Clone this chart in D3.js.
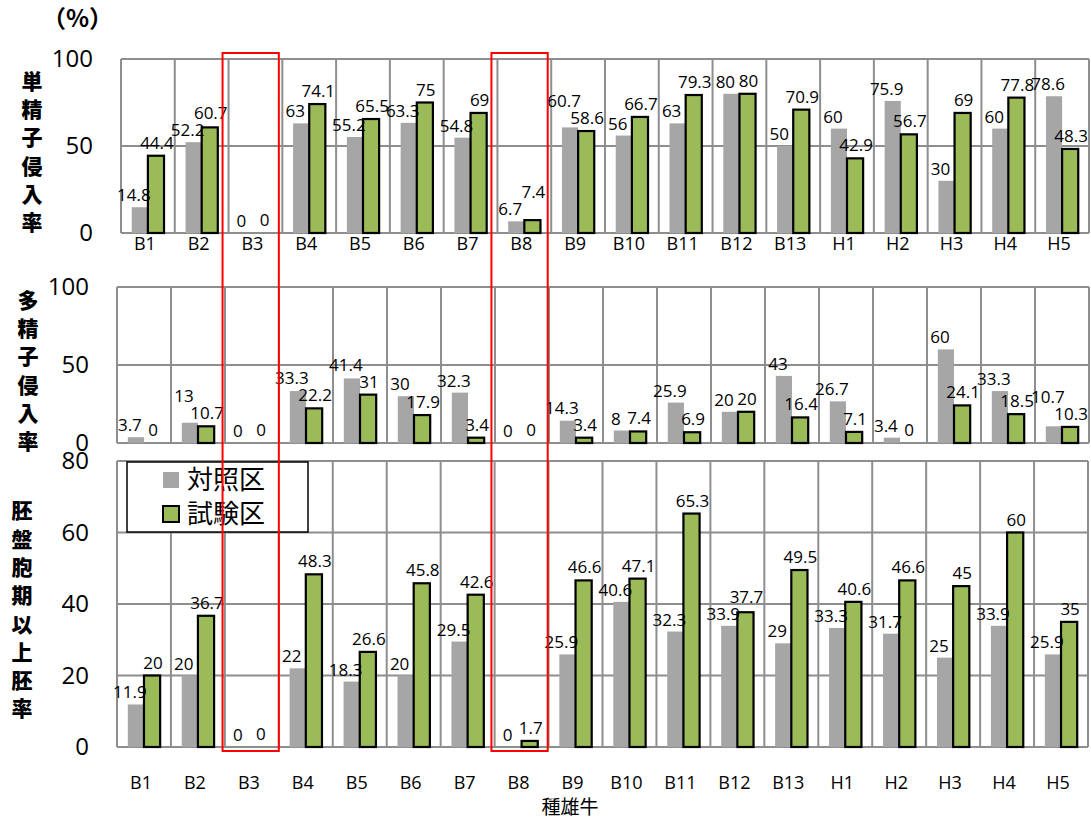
<!DOCTYPE html>
<html>
<head>
<meta charset="utf-8">
<script src="https://cdn.jsdelivr.net/npm/d3@7"></script>
<style>
    body { margin: 0; background: #fff; }
    svg { display: block; }
    text { font-family: "Open Sans", sans-serif; fill: #000; }
    .jp { font-family: "Noto Sans CJK JP", sans-serif; }
</style>
</head>
<body>
<svg class="chart"></svg>
<script>
// data
const categories = ['B1', 'B2', 'B3', 'B4', 'B5', 'B6', 'B7', 'B8', 'B9', 'B10', 'B11', 'B12', 'B13', 'H1', 'H2', 'H3', 'H4', 'H5']
const seriesNames = ['対照区', '試験区']

const monoControl = [14.8, 52.2, 0, 63, 55.2, 63.3, 54.8, 6.7, 60.7, 56, 63, 80, 50, 60, 75.9, 30, 60, 78.6]
const monoTest = [44.4, 60.7, 0, 74.1, 65.5, 75, 69, 7.4, 58.6, 66.7, 79.3, 80, 70.9, 42.9, 56.7, 69, 77.8, 48.3]

const polyControl = [3.7, 13, 0, 33.3, 41.4, 30, 32.3, 0, 14.3, 8, 25.9, 20, 43, 26.7, 3.4, 60, 33.3, 10.7]
const polyTest = [0, 10.7, 0, 22.2, 31, 17.9, 3.4, 0, 3.4, 7.4, 6.9, 20, 16.4, 7.1, 0, 24.1, 18.5, 10.3]

const blastControl = [11.9, 20, 0, 22, 18.3, 20, 29.5, 0, 25.9, 40.6, 32.3, 33.9, 29, 33.3, 31.7, 25, 33.9, 25.9]
const blastTest = [20, 36.7, 0, 48.3, 26.6, 45.8, 42.6, 1.7, 46.6, 47.1, 65.3, 37.7, 49.5, 40.6, 46.6, 45, 60, 35]

const monoTicks = [0, 50, 100]
const polyTicks = [0, 50, 100]
const blastTicks = [0, 20, 40, 60, 80]

const highlighted = ['B3', 'B8']

const width = 1091
const height = 820
const gridColor = '#8e8e8e'
const greyFill = '#a6a6a6'
const greenFill = '#9bbb59'
const labelSize = 17

const svg = d3.select('.chart')
    .attr('width', width)
    .attr('height', height)

const panels = [
    { title: '単精子侵入率', control: monoControl, test: monoTest, ticks: monoTicks, max: 100, left: 121, right: 1089, top: 59, bottom: 233, titleX: 32, labels: 244 },
    { title: '多精子侵入率', control: polyControl, test: polyTest, ticks: polyTicks, max: 100, left: 117, right: 1089, top: 287, bottom: 443, titleX: 28 },
    { title: '胚盤胞期以上胚率', control: blastControl, test: blastTest, ticks: blastTicks, max: 80, left: 117, right: 1088, top: 461, bottom: 747, titleX: 22, labels: 783 }
]

let topX = null

panels.forEach(p => {
    const x = d3.scaleBand()
        .domain(categories)
        .range([p.left, p.right])
        .padding(0)
    if (!topX) topX = x

    const sub = d3.scaleBand()
        .domain(['control', 'test'])
        .range([0, x.bandwidth()])
        .paddingInner(0)
        .paddingOuter(0.667)

    const y = d3.scaleLinear()
        .domain([0, p.max])
        .range([p.bottom, p.top])

    const g = svg.append('g')

    // gridlines
    g.selectAll('.hgrid')
        .data(p.ticks)
        .enter()
        .append('line')
        .attr('x1', p.left)
        .attr('x2', p.right)
        .attr('y1', d => y(d))
        .attr('y2', d => y(d))
        .attr('stroke', gridColor)
        .attr('stroke-width', 2)

    g.selectAll('.vgrid')
        .data(categories.concat(['end']))
        .enter()
        .append('line')
        .attr('x1', d => d === 'end' ? p.right : x(d))
        .attr('x2', d => d === 'end' ? p.right : x(d))
        .attr('y1', p.top)
        .attr('y2', p.bottom)
        .attr('stroke', gridColor)
        .attr('stroke-width', 2)

    // tick labels
    const axis = d3.axisLeft(y).tickValues(p.ticks).tickSize(0).tickPadding(0)
    const ax = g.append('g')
        .attr('transform', `translate(${p.left - 28},0)`)
        .call(axis)
    ax.select('.domain').remove()
    ax.selectAll('text')
        .attr('font-family', '"Open Sans", sans-serif')
        .attr('font-size', 24)
        .attr('fill', '#000')

    // bars
    const rows = categories.map((c, i) => ({ c, control: p.control[i], test: p.test[i] }))

    g.selectAll('.grey')
        .data(rows.filter(d => d.control > 0))
        .enter()
        .append('rect')
        .attr('x', d => x(d.c) + sub('control'))
        .attr('width', sub.bandwidth())
        .attr('y', d => y(d.control))
        .attr('height', d => y(0) - y(d.control))
        .attr('fill', greyFill)

    g.selectAll('.green')
        .data(rows.filter(d => d.test > 0))
        .enter()
        .append('rect')
        .attr('x', d => x(d.c) + sub('test'))
        .attr('width', sub.bandwidth())
        .attr('y', d => y(d.test))
        .attr('height', d => y(0) - y(d.test))
        .attr('fill', greenFill)
        .attr('stroke', '#000')
        .attr('stroke-width', 2.2)

    // value labels, nudged apart when the pair would collide
    const labels = []
    rows.forEach(d => {
        const a = {
            x: x(d.c) + sub('control') + sub.bandwidth() / 2 - 6,
            y: y(d.control) - 6,
            w: String(d.control).length * 0.55 * labelSize,
            t: d.control
        }
        const b = {
            x: x(d.c) + sub('test') + sub.bandwidth() / 2 + 1,
            y: y(d.test) - 7,
            w: String(d.test).length * 0.55 * labelSize,
            t: d.test
        }
        const hOverlap = Math.abs(b.x - a.x) < (a.w + b.w) / 2 - 2
        if (hOverlap && Math.abs(a.y - b.y) < 17) {
            if (d.test >= d.control) b.y = a.y - 17
            else a.y = b.y - 17
        }
        labels.push(a, b)
    })

    g.selectAll('.lab')
        .data(labels)
        .enter()
        .append('text')
        .attr('x', d => d.x)
        .attr('y', d => d.y)
        .attr('text-anchor', 'middle')
        .attr('font-size', labelSize)
        .text(d => d.t)

    // category labels
    if (p.labels) {
        g.selectAll('.cat')
            .data(categories)
            .enter()
            .append('text')
            .attr('x', d => x(d) + x.bandwidth() / 2 - 3)
            .attr('y', p.labels)
            .attr('dy', '0.35em')
            .attr('text-anchor', 'middle')
            .attr('font-size', 18)
            .text(d => d)
    }

    // vertical title, one character per line
    const chars = Array.from(p.title)
    const mid = (p.top + p.bottom) / 2 + 6
    g.selectAll('.title')
        .data(chars)
        .enter()
        .append('text')
        .attr('class', 'jp')
        .attr('x', p.titleX)
        .attr('y', (d, i) => mid + (i - (chars.length - 1) / 2) * 28.3)
        .attr('dy', '0.35em')
        .attr('text-anchor', 'middle')
        .attr('font-size', 21)
        .attr('font-weight', 900)
        .text(d => d)
})

// legend
const legend = svg.append('g').attr('transform', 'translate(127,462)')
legend.append('rect')
    .attr('width', 181)
    .attr('height', 70)
    .attr('fill', '#fff')
    .attr('stroke', '#000')
    .attr('stroke-width', 1.5)
seriesNames.forEach((name, i) => {
    legend.append('rect')
        .attr('x', 36)
        .attr('y', 10 + i * 34)
        .attr('width', 16)
        .attr('height', 16)
        .attr('fill', i === 0 ? greyFill : greenFill)
        .attr('stroke', i === 0 ? 'none' : '#000')
        .attr('stroke-width', 2)
    legend.append('text')
        .attr('class', 'jp')
        .attr('x', 60)
        .attr('y', 18 + i * 34)
        .attr('dy', '0.36em')
        .attr('font-size', 26)
        .text(name)
})

// red highlight boxes
svg.selectAll('.hl')
    .data(highlighted)
    .enter()
    .append('rect')
    .attr('x', d => topX(d) - 6)
    .attr('y', 53)
    .attr('width', topX.bandwidth() + 2.5)
    .attr('height', 698)
    .attr('fill', 'none')
    .attr('stroke', '#ff0000')
    .attr('stroke-width', 2)

// unit and x title
svg.append('text')
    .attr('class', 'jp')
    .attr('x', 42)
    .attr('y', 19)
    .attr('dy', '0.35em')
    .attr('font-size', 24)
    .attr('font-weight', 'bold')
    .text('（%）')

svg.append('text')
    .attr('class', 'jp')
    .attr('x', 570)
    .attr('y', 807)
    .attr('dy', '0.35em')
    .attr('text-anchor', 'middle')
    .attr('font-size', 19)
    .text('種雄牛')
</script>
</body>
</html>
